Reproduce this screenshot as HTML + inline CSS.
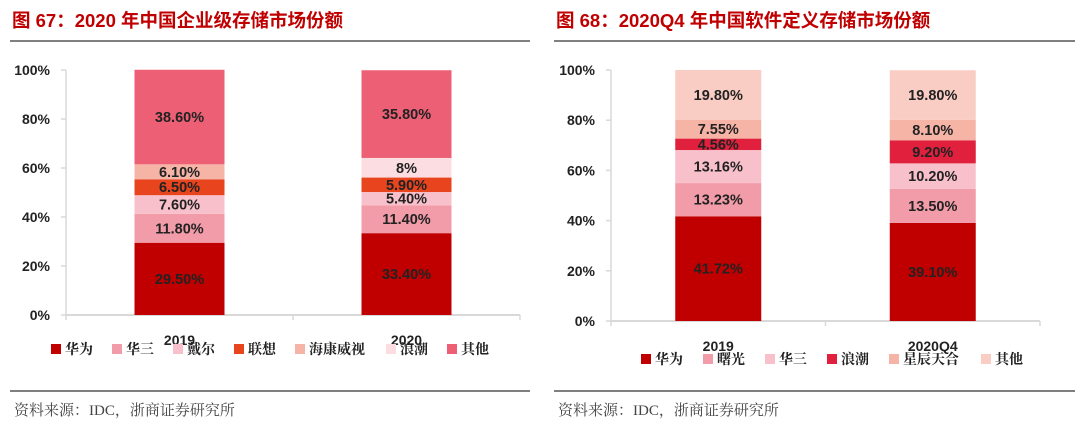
<!DOCTYPE html>
<html><head><meta charset="utf-8">
<style>
body{margin:0;background:#fff;width:1080px;height:435px;overflow:hidden;font-family:"Liberation Sans","Noto Sans CJK SC",sans-serif;}
svg{position:absolute;top:0;}
</style></head>
<body>
<svg id="chartL" width="540" height="435" style="left:0"></svg>
<svg id="chartR" width="540" height="435" style="left:540px"></svg>
<script>
// Left chart data
const catsL = ["2019","2020"];
const seriesL = ["华为","华三","戴尔","联想","海康威视","浪潮","其他"];
const colorsL = ["#C00000","#F19CA8","#F8C0CB","#E8441E","#F6B4A6","#FCDDE2","#EC5F75"];
const valsL = [[29.5,33.4],[11.8,11.4],[7.6,5.4],[6.5,5.9],[6.1,0],[0,8],[38.6,35.8]];
const printL = [["29.50%","33.40%"],["11.80%","11.40%"],["7.60%","5.40%"],["6.50%","5.90%"],["6.10%",""],["","8%"],["38.60%","35.80%"]];
// Right chart data
const catsR = ["2019","2020Q4"];
const seriesR = ["华为","曙光","华三","浪潮","星辰天合","其他"];
const colorsR = ["#C00000","#F19CA8","#F8C0CB","#E0203C","#F6B4A6","#FACDC4"];
const valsR = [[41.72,39.1],[13.23,13.5],[13.16,10.2],[4.56,9.2],[7.55,8.1],[19.8,19.8]];
const printR = [["41.72%","39.10%"],["13.23%","13.50%"],["13.16%","10.20%"],["4.56%","9.20%"],["7.55%","8.10%"],["19.80%","19.80%"]];
const ticks = ["0%","20%","40%","60%","80%","100%"];

const NS="http://www.w3.org/2000/svg";
function mk(svg,tag,attrs,name,text){
  const e=document.createElementNS(NS,tag);
  for(const k in attrs)e.setAttribute(k,attrs[k]);
  
  
  if(text!==undefined)e.textContent=text;
  svg.appendChild(e);return e;
}
function draw(svg,cfg){
  mk(svg,'text',{x:cfg.tx,y:27,fill:'#C00000','font-size':'18.5','font-weight':'bold'},'chart-title',cfg.title);
  mk(svg,'line',{x1:cfg.rx1,x2:cfg.rx2,y1:41,y2:41,stroke:'#808080','stroke-width':2},'title-rule');
  mk(svg,'line',{x1:cfg.rx1,x2:cfg.rx2,y1:391,y2:391,stroke:'#333','stroke-width':1.2},'footer-rule');
  mk(svg,'text',{x:cfg.rx1+4,y:415,fill:'#444','font-size':'15','font-family':'"Liberation Serif","Noto Serif CJK SC",serif'},'source-note','资料来源：IDC，浙商证券研究所');
  const y=v=>cfg.y0-(cfg.y0-cfg.y100)*v/100;
  const n=cfg.cats.length, band=(cfg.ax2-cfg.ax1)/n;
  const xc=i=>cfg.ax1+band*(i+0.5);
  mk(svg,'line',{x1:cfg.ax1,x2:cfg.ax1,y1:cfg.y100,y2:cfg.y0,stroke:'#d9d9d9','stroke-width':1.5},'y-axis');
  ticks.forEach((t,i)=>{
    const v=i*20;
    mk(svg,'line',{x1:cfg.ax1-5,x2:cfg.ax1,y1:y(v),y2:y(v),stroke:'#d9d9d9','stroke-width':1.5},'y-tick');
    mk(svg,'text',{x:cfg.ax1-16,y:y(v)+5,'text-anchor':'end','font-size':'14','font-weight':'bold',fill:'#222'},'y-tick-label',t);
  });
  mk(svg,'line',{x1:cfg.ax1,x2:cfg.ax2,y1:cfg.y0,y2:cfg.y0,stroke:'#d9d9d9','stroke-width':2},'x-axis');
  for(let i=0;i<=n;i++)mk(svg,'line',{x1:cfg.ax1+band*i,x2:cfg.ax1+band*i,y1:cfg.y0,y2:cfg.y0+5,stroke:'#d9d9d9','stroke-width':1.5},'x-tick');
  cfg.cats.forEach((c,i)=>{
    let acc=0;
    cfg.vals.forEach((s,k)=>{
      const v=s[i]; if(v<=0)return;
      const top=y(acc+v),bot=y(acc);
      mk(svg,'rect',{x:xc(i)-cfg.bw/2,y:top,width:cfg.bw,height:bot-top,fill:cfg.colors[k]},'bar-'+c+'-'+k);
      if(cfg.print[k][i])mk(svg,'text',{x:xc(i),y:(top+bot)/2+5,'text-anchor':'middle','font-size':'14.5','font-weight':'bold',fill:'#222'},'bar-value-label',cfg.print[k][i]);
      acc+=v;
    });
    mk(svg,'text',{x:xc(i),y:cfg.y0+30,'text-anchor':'middle','font-size':'14','font-weight':'bold',fill:'#222'},'x-category-label',c);
  });
  let lx=cfg.lx;
  cfg.series.forEach((s,k)=>{
    mk(svg,'rect',{x:lx,y:cfg.ly-10,width:10,height:10,fill:cfg.colors[k]},'legend-swatch');
    mk(svg,'text',{x:lx+14,y:cfg.ly,'font-size':'14','font-weight':'bold',fill:'#222','font-family':'"Noto Serif CJK SC",serif'},'legend-entry',s);
    lx+=14+s.length*15+cfg.lgap;
  });
}
draw(document.getElementById('chartL'),{title:'图 67：2020 年中国企业级存储市场份额',tx:12,rx1:10,rx2:530,
  ax1:66,ax2:520,y0:315,y100:70,bw:90,cats:catsL,series:seriesL,colors:colorsL,vals:valsL,print:printL,lx:51,ly:354,lgap:17});
draw(document.getElementById('chartR'),{title:'图 68：2020Q4 年中国软件定义存储市场份额',tx:16,rx1:14,rx2:535,
  ax1:71,ax2:500,y0:321,y100:70,bw:86,cats:catsR,series:seriesR,colors:colorsR,vals:valsR,print:printR,lx:101,ly:364,lgap:18});
</script>
</body></html>
